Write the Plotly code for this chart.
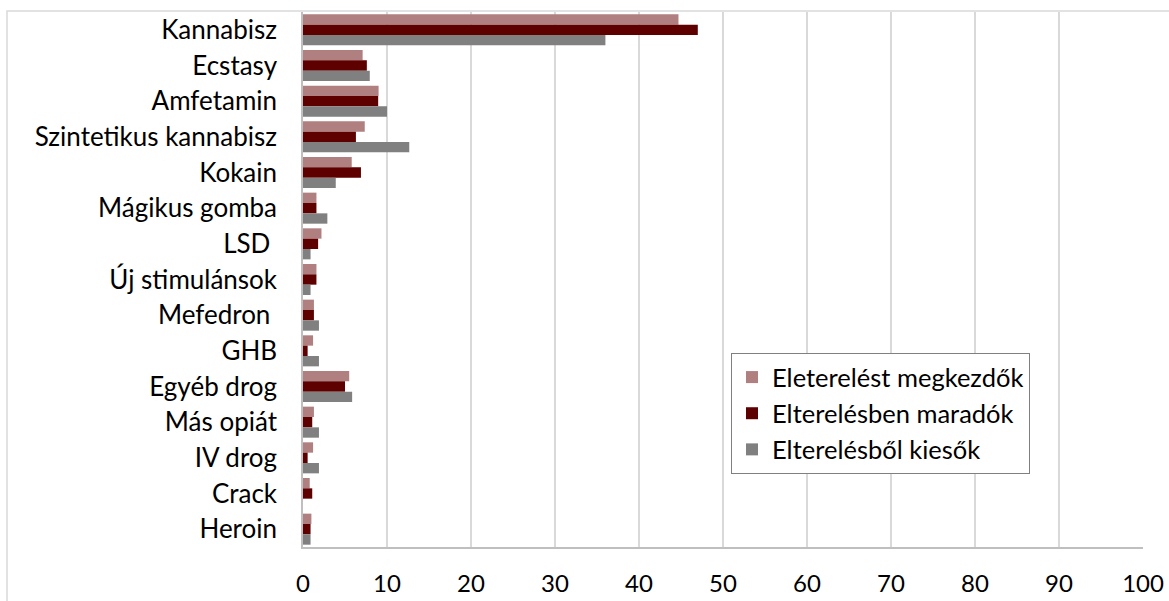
import plotly.graph_objects as go

categories = ["Kannabisz", "Ecstasy", "Amfetamin", "Szintetikus kannabisz", "Kokain",
              "Mágikus gomba", "LSD\u00a0", "Új stimulánsok", "Mefedron\u00a0", "GHB",
              "Egyéb drog", "Más opiát", "IV drog", "Crack", "Heroin"]

series_names = ["Eleterelést megkezdők", "Elterelésben maradók", "Elterelésből kiesők"]

megkezdok = [44.7, 7.1, 9.0, 7.35, 5.8, 1.6, 2.2, 1.6, 1.3, 1.2, 5.5, 1.3, 1.2, 0.8, 1.0]
maradok = [47.0, 7.6, 8.95, 6.3, 6.9, 1.6, 1.8, 1.6, 1.3, 0.55, 5.0, 1.1, 0.55, 1.1, 0.9]
kiesok = [36.0, 7.95, 10.0, 12.65, 3.9, 2.9, 0.9, 0.9, 1.9, 1.9, 5.85, 1.9, 1.9, 0.0, 0.9]

colors = ["#B07F7F", "#5E0000", "#808080"]

FONT = "Lato"
fig = go.Figure()
for i, (name, vals) in enumerate(zip(series_names, [megkezdok, maradok, kiesok])):
    fig.add_trace(go.Bar(
        y=categories, x=vals, name=name, orientation="h",
        marker=dict(color=colors[i], line=dict(width=0)),
        legendgroup=f"g{i}",
    ))

W, H = 1169, 601
L, R, T, B = 303, 26, 12, 54
pw, ph = W - L - R, H - T - B

def px_to_paper_x(px):
    return (px - L) / pw

def px_to_paper_y(py):
    return (H - B - py) / ph

fig.update_layout(
    width=W, height=H,
    margin=dict(l=L, r=R, t=T, b=B, pad=0, autoexpand=False),
    paper_bgcolor="white", plot_bgcolor="white",
    barmode="group", bargap=0.13, bargroupgap=0,
    font=dict(family=FONT, size=24, color="#000000"),
    xaxis=dict(range=[0, 100], dtick=10, tick0=0, showgrid=True,
               gridcolor="#D9D9D9", gridwidth=1.5, showline=True,
               linecolor="#BFBFBF", linewidth=1.5, ticks="", zeroline=False,
               automargin=False,
               ticklabelstandoff=14, tickfont=dict(family=FONT, size=24)),
    yaxis=dict(autorange="reversed", showline=True, linecolor="#BFBFBF",
               linewidth=1.5, ticks="", showgrid=False, automargin=False,
               ticklabelstandoff=19, tickfont=dict(family=FONT, size=26)),
    legend=dict(x=px_to_paper_x(731), y=px_to_paper_y(353), xanchor="left", yanchor="top",
                bgcolor="white", bordercolor="#808080", borderwidth=1,
                font=dict(family=FONT, size=25.5), traceorder="normal",
                tracegroupgap=0),
    showlegend=True,
    shapes=[dict(type="rect", xref="paper", yref="paper",
                 x0=px_to_paper_x(7), x1=px_to_paper_x(1180),
                 y0=px_to_paper_y(620), y1=px_to_paper_y(11),
                 line=dict(color="#D9D9D9", width=1.5), fillcolor="rgba(0,0,0,0)",
                 layer="below")],
)

fig.write_html("out.html")
